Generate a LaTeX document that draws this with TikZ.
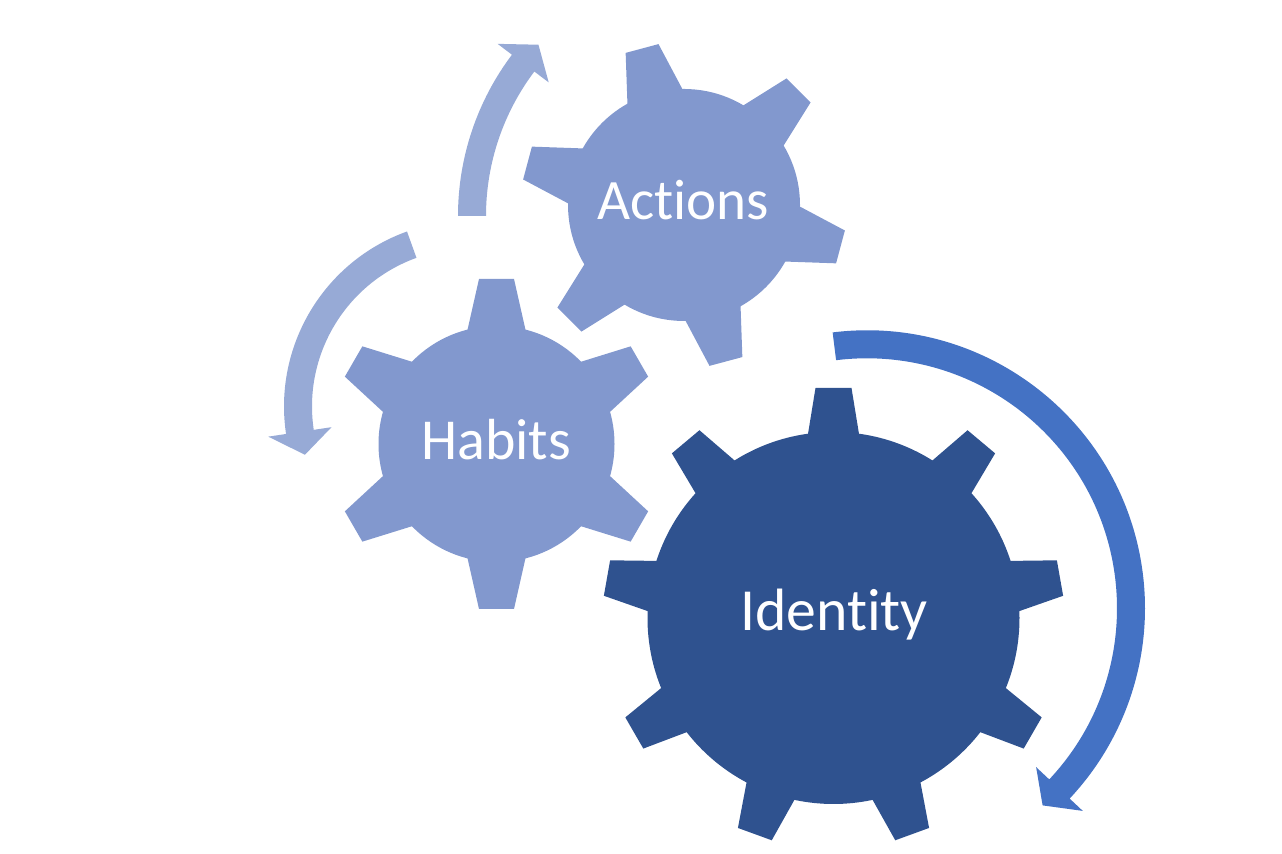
\documentclass[tikz,border=0pt]{standalone}
\usepackage{fontspec}
\setmainfont{Carlito}[Ligatures=NoCommon]

\definecolor{gearlite}{RGB}{130,152,206}
\definecolor{arrowlite}{RGB}{151,170,214}
\definecolor{geardark}{RGB}{47,82,143}
\definecolor{arrowdark}{RGB}{68,114,196}

\begin{document}
\begin{tikzpicture}[
        x=0.02cm, y=0.02cm,
        lbl/.style={text=white, anchor=base, inner sep=0pt}
    ]
        \useasboundingbox (0,0) rectangle (1282,854);

        \coordinate (act) at (684,649);
        \coordinate (hab) at (496.5,410);
        \coordinate (idt) at (833.5,236);
        \coordinate (arA) at (726,638);
        \coordinate (arB) at (470,447.5);
        \coordinate (arC) at (867,245.7);

        % gears
        \fill[gearlite] (act) circle[radius=116];
        \foreach \a in {105,165,...,405}
            \fill[gearlite, shift={(act)}, rotate=\a] (100,-31.3) -- (162,-17) -- (162,17) -- (100,31.3) -- cycle;

        \fill[gearlite] (hab) circle[radius=118];
        \foreach \a in {90,150,...,390}
            \fill[gearlite, shift={(hab)}, rotate=\a] (100,-32.2) -- (165,-17.5) -- (165,17.5) -- (100,32.2) -- cycle;

        \fill[geardark] (idt) circle[radius=186];
        \foreach \a in {90,130,...,410}
            \fill[geardark, shift={(idt)}, rotate=\a] (170,-27.8) -- (230,-18) -- (230,18) -- (170,27.8) -- cycle;

        % circular arrows
        \fill[arrowlite, shift={(arA)}] (180:268) arc[start angle=180, end angle=143, radius=268]
            -- (143:286) -- (137.6:254) -- (143:222) -- (143:240)
            arc[start angle=143, end angle=180, radius=240] -- cycle;
        \fill[arrowlite, shift={(arB)}] (109.8:186) arc[start angle=109.8, end angle=188.5, radius=186]
            -- (188.5:204) -- (196.3:172) -- (188.5:140) -- (188.5:158)
            arc[start angle=188.5, end angle=109.8, radius=158] -- cycle;
        \fill[arrowdark, shift={(arC)}] (97.1:278) arc[start angle=97.1, end angle=-43.2, radius=278]
            -- (-43.2:296) -- (-48.3:264) -- (-43.2:232) -- (-43.2:250)
            arc[start angle=-43.2, end angle=97.1, radius=250] -- cycle;

        % labels
        \node[lbl, font=\fontsize{32.5}{39}\selectfont] (actions)  at (683,634)   {Actions};
        \node[lbl, font=\fontsize{33}{40}\selectfont]   (habits)   at (496,394)   {Habits};
        \node[lbl, font=\fontsize{34}{41}\selectfont]   (identity) at (834,223.3) {Identity};
    \end{tikzpicture}
\end{document}
